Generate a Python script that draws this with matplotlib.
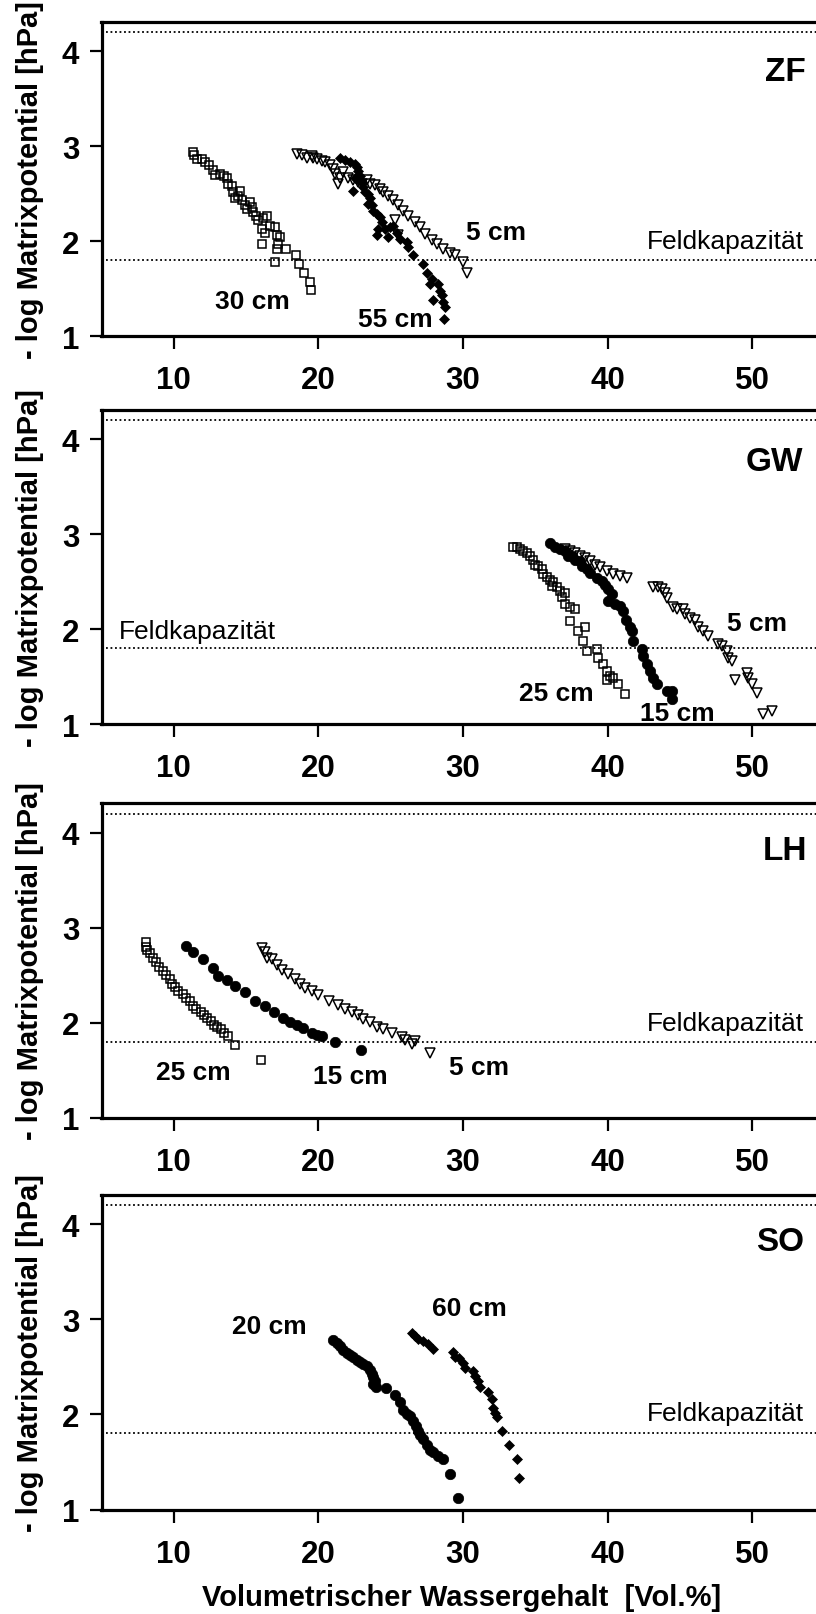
import matplotlib
matplotlib.use("Agg")
import matplotlib.pyplot as plt

plt.rcParams['font.family'] = ['Liberation Sans', 'DejaVu Sans']

# ---- ZF ----
zf_5_x = [18.49, 18.84, 19.19, 19.53, 19.65, 19.88, 20.22, 20.46, 20.80, 21.03, 21.15, 21.49, 21.38,
          21.72, 22.07, 22.42, 22.76, 22.99, 23.34, 23.57, 23.91, 24.26, 24.49, 24.84, 25.18, 25.30,
          25.53, 25.50, 25.87, 26.22, 26.68, 27.03, 27.37, 27.83, 28.18, 28.64, 29.10, 29.45, 30.02, 30.25]
zf_5_y = [2.92, 2.91, 2.88, 2.90, 2.88, 2.87, 2.84, 2.83, 2.80, 2.76, 2.71, 2.66, 2.60,
          2.73, 2.67, 2.64, 2.62, 2.60, 2.64, 2.60, 2.59, 2.55, 2.52, 2.48, 2.43, 2.22,
          2.38, 2.07, 2.32, 2.27, 2.20, 2.15, 2.08, 2.01, 1.97, 1.92, 1.88, 1.85, 1.78, 1.66]
zf_30_x = [11.30, 11.40, 11.60, 11.93, 12.16, 12.46, 12.73, 12.85, 13.19, 13.47, 13.65, 13.77, 14.00,
           14.12, 14.23, 14.46, 14.58, 14.69, 14.92, 15.04, 15.27, 15.38, 15.50, 15.68, 15.84, 16.19,
           16.42, 16.07, 16.31, 16.07, 16.65, 17.00, 17.11, 17.23, 17.34, 17.11, 17.00, 17.76, 18.45,
           18.68, 19.00, 19.42, 19.46]
zf_30_y = [2.94, 2.91, 2.87, 2.86, 2.83, 2.80, 2.75, 2.70, 2.71, 2.69, 2.66, 2.60, 2.58,
           2.52, 2.45, 2.48, 2.53, 2.43, 2.38, 2.34, 2.41, 2.36, 2.31, 2.26, 2.22, 2.24,
           2.27, 2.13, 2.09, 1.97, 2.16, 2.15, 2.06, 1.97, 2.04, 1.92, 1.78, 1.92, 1.85,
           1.76, 1.67, 1.57, 1.49]
zf_55_x = [21.49, 21.84, 22.18, 22.53, 22.65, 22.76, 22.88, 22.53, 22.76, 22.99, 22.42, 23.11, 23.22,
           23.45, 23.57, 23.45, 23.68, 23.80, 24.03, 24.26, 24.38, 24.14, 24.03, 24.61, 24.95, 24.84,
           25.18, 25.41, 25.64, 26.10, 26.22, 26.56, 27.26, 27.49, 27.83, 27.72, 28.29, 28.41, 28.52,
           27.95, 28.64, 28.76, 28.68]
zf_55_y = [2.88, 2.85, 2.83, 2.81, 2.78, 2.74, 2.69, 2.67, 2.64, 2.62, 2.53, 2.57, 2.52,
           2.50, 2.45, 2.39, 2.38, 2.32, 2.29, 2.25, 2.20, 2.13, 2.06, 2.13, 2.15, 2.04,
           2.16, 2.09, 2.02, 1.99, 1.94, 1.85, 1.76, 1.66, 1.60, 1.55, 1.55, 1.48, 1.43,
           1.38, 1.36, 1.31, 1.18]

# ---- GW ----
gw_5_x = [37.05, 37.40, 37.75, 38.09, 38.44, 38.78, 39.13, 39.47, 39.94, 40.40, 40.86, 41.32,
          43.16, 43.51, 43.74, 43.97, 44.08, 44.55, 44.78, 45.24, 45.35, 45.70, 46.04, 46.27,
          46.62, 46.97, 47.66, 47.89, 48.23, 48.35, 48.58, 48.81, 49.62, 49.73, 49.96, 50.31,
          50.77, 51.35]
gw_5_y = [2.84, 2.82, 2.80, 2.77, 2.75, 2.72, 2.68, 2.65, 2.61, 2.58, 2.56, 2.54,
          2.44, 2.44, 2.42, 2.38, 2.33, 2.23, 2.21, 2.21, 2.16, 2.12, 2.10, 2.02,
          1.98, 1.93, 1.84, 1.82, 1.77, 1.70, 1.67, 1.47, 1.54, 1.49, 1.42, 1.33,
          1.11, 1.14]
gw_15_x = [36.02, 36.36, 36.71, 37.05, 37.28, 37.52, 37.75, 38.09, 38.21, 38.55, 38.78, 39.24,
           39.59, 39.82, 40.05, 40.28, 40.05, 40.51, 40.86, 41.09, 41.27, 41.55, 41.67, 41.78,
           42.36, 42.47, 42.70, 42.93, 43.16, 43.39, 44.08, 44.43, 44.43]
gw_15_y = [2.91, 2.87, 2.84, 2.82, 2.77, 2.77, 2.73, 2.72, 2.66, 2.63, 2.59, 2.54,
           2.51, 2.47, 2.42, 2.37, 2.30, 2.26, 2.24, 2.19, 2.10, 2.02, 1.98, 1.88,
           1.79, 1.72, 1.63, 1.56, 1.49, 1.42, 1.35, 1.35, 1.26]
gw_25_x = [33.43, 33.71, 33.94, 34.17, 34.40, 34.63, 34.86, 34.98, 35.21, 35.44, 35.56, 35.79,
           36.02, 36.25, 36.13, 36.48, 36.71, 37.05, 36.82, 37.05, 37.40, 37.75, 37.40, 37.98,
           38.44, 38.32, 38.55, 39.24, 39.36, 39.70, 39.94, 40.17, 40.40, 39.94, 40.74, 41.20]
gw_25_y = [2.87, 2.86, 2.84, 2.82, 2.80, 2.77, 2.73, 2.68, 2.66, 2.63, 2.58, 2.55,
           2.52, 2.50, 2.45, 2.44, 2.40, 2.38, 2.34, 2.26, 2.23, 2.21, 2.09, 1.98,
           2.02, 1.88, 1.77, 1.79, 1.70, 1.63, 1.56, 1.51, 1.49, 1.46, 1.42, 1.32]

# ---- LH ----
lh_5_x = [16.08, 16.31, 16.42, 16.77, 17.11, 17.46, 17.92, 18.38, 18.73, 19.07, 19.53, 19.99,
          20.76, 21.38, 21.84, 22.30, 22.76, 23.11, 23.57, 24.03, 24.49, 25.07, 25.76, 25.99,
          26.45, 26.68, 27.72]
lh_5_y = [2.79, 2.74, 2.68, 2.67, 2.61, 2.56, 2.51, 2.46, 2.41, 2.37, 2.33, 2.29,
          2.23, 2.19, 2.15, 2.11, 2.08, 2.04, 2.01, 1.96, 1.93, 1.89, 1.85, 1.82,
          1.78, 1.81, 1.68]
lh_15_x = [10.84, 11.30, 12.00, 12.73, 13.08, 13.66, 14.23, 14.92, 15.62, 16.31, 16.93, 17.53,
           18.04, 18.50, 18.96, 19.53, 19.88, 20.23, 21.15, 22.92]
lh_15_y = [2.81, 2.75, 2.67, 2.58, 2.49, 2.45, 2.39, 2.32, 2.23, 2.18, 2.11, 2.05,
           2.01, 1.98, 1.94, 1.89, 1.87, 1.86, 1.80, 1.71]
lh_25_x = [8.08, 8.08, 8.12, 8.35, 8.58, 8.77, 9.00, 9.28, 9.46, 9.74, 9.85, 10.08, 10.31,
           10.61, 10.84, 11.12, 11.35, 11.53, 11.86, 12.09, 12.32, 12.57, 12.80, 13.01, 13.24,
           13.47, 13.77, 14.23, 16.01]
lh_25_y = [2.85, 2.80, 2.77, 2.73, 2.68, 2.64, 2.59, 2.54, 2.50, 2.46, 2.41, 2.38, 2.33,
           2.30, 2.26, 2.23, 2.18, 2.15, 2.11, 2.08, 2.05, 2.02, 1.98, 1.96, 1.93,
           1.89, 1.86, 1.77, 1.61]

# ---- SO ----
so_20_x = [20.99, 21.26, 21.49, 21.72, 21.95, 22.18, 22.42, 22.65, 22.88, 23.11, 23.34, 23.57,
           23.68, 23.80, 23.91, 23.80, 23.98, 24.67, 25.30, 25.64, 25.87, 26.10, 26.33, 26.56,
           26.75, 26.91, 27.03, 27.26, 27.49, 27.72, 27.95, 28.29, 28.59, 29.10, 29.68]
so_20_y = [2.78, 2.75, 2.72, 2.68, 2.65, 2.63, 2.60, 2.57, 2.55, 2.53, 2.51, 2.47,
           2.43, 2.39, 2.35, 2.32, 2.29, 2.28, 2.20, 2.13, 2.05, 2.01, 1.98, 1.93,
           1.88, 1.83, 1.78, 1.74, 1.68, 1.63, 1.60, 1.56, 1.53, 1.37, 1.12]
so_60_x = [26.45, 26.68, 26.91, 27.26, 27.60, 27.95, 29.28, 29.45, 29.75, 29.98, 30.14, 30.71,
           30.83, 31.06, 31.18, 31.75, 31.98, 32.05, 32.21, 32.37, 32.67, 33.20, 33.71, 33.90]
so_60_y = [2.86, 2.83, 2.79, 2.77, 2.74, 2.69, 2.66, 2.61, 2.59, 2.54, 2.49, 2.46,
           2.40, 2.35, 2.29, 2.24, 2.16, 2.07, 2.02, 1.97, 1.83, 1.68, 1.53, 1.33]

field_capacity = 1.8
upper_line = 4.2

open_sq = dict(marker='s', ms=6.2, mfc='none', mec='black', mew=1.1, ls='none')
open_tri = dict(marker='v', ms=7.5, mfc='none', mec='black', mew=1.1, ls='none')
dot = dict(marker='o', ms=7.5, mfc='black', mec='black', mew=0.5, ls='none')
diamond = dict(marker='D', ms=5.5, mfc='black', mec='black', mew=0.5, ls='none')

fig = plt.figure(figsize=(8.16, 16.15), dpi=100)
W, H = 816.0, 1615.0
tops = [22.7, 410.7, 804.3, 1196.0]
ax_h = 314.5
axes = []
for t in tops:
    ax = fig.add_axes([101.5 / W, 1 - (t + ax_h) / H, 723.0 / W, ax_h / H])
    axes.append(ax)

for ax in axes:
    ax.set_xlim(5, 55)
    ax.set_ylim(1, 4.31)
    ax.set_xticks([10, 20, 30, 40, 50])
    ax.set_yticks([1, 2, 3, 4])
    ax.tick_params(direction='out', length=9, width=1.6, labelsize=22.5)
    ax.tick_params(axis='x', pad=12)
    ax.tick_params(axis='y', pad=7)
    for lab in ax.get_xticklabels() + ax.get_yticklabels():
        lab.set_fontweight('bold')
    for s in ax.spines.values():
        s.set_linewidth(2.3)
    ax.axhline(upper_line, xmin=0.006, color='black', lw=1.3, ls=(0, (1, 1.5)))
    ax.axhline(field_capacity, xmin=0.006, color='black', lw=1.3, ls=(0, (1, 1.5)))
    ax.set_ylabel('- log Matrixpotential [hPa]', fontweight='bold', fontsize=21)
    ax.yaxis.set_label_coords(-0.08, 0.5)

lbl = dict(fontsize=19, fontweight='bold', ha='center', va='center')
ttl = dict(fontsize=24, fontweight='bold', ha='right', va='center')
fk = dict(fontsize=19, va='center')

# ZF
ax = axes[0]
ax.plot(zf_30_x, zf_30_y, **open_sq)
ax.plot(zf_5_x, zf_5_y, **open_tri)
ax.plot(zf_55_x, zf_55_y, **diamond)
ax.text(32.3, 2.10, '5 cm', **lbl)
ax.text(15.45, 1.375, '30 cm', **lbl)
ax.text(25.35, 1.18, '55 cm', **lbl)
ax.text(53.7, 3.79, 'ZF', **ttl)
ax.text(53.6, 2.0, 'Feldkapazität', ha='right', **fk)

# GW
ax = axes[1]
ax.plot(gw_25_x, gw_25_y, **open_sq)
ax.plot(gw_5_x, gw_5_y, **open_tri)
ax.plot(gw_15_x, gw_15_y, **dot)
ax.text(50.3, 2.07, '5 cm', **lbl)
ax.text(36.43, 1.33, '25 cm', **lbl)
ax.text(44.8, 1.12, '15 cm', **lbl)
ax.text(53.5, 3.77, 'GW', **ttl)
ax.text(6.2, 1.98, 'Feldkapazität', ha='left', **fk)

# LH
ax = axes[2]
ax.plot(lh_25_x, lh_25_y, **open_sq)
ax.plot(lh_5_x, lh_5_y, **open_tri)
ax.plot(lh_15_x, lh_15_y, **dot)
ax.text(11.33, 1.48, '25 cm', **lbl)
ax.text(22.2, 1.44, '15 cm', **lbl)
ax.text(31.1, 1.53, '5 cm', **lbl)
ax.text(53.8, 3.81, 'LH', **ttl)
ax.text(53.6, 2.0, 'Feldkapazität', ha='right', **fk)

# SO
ax = axes[3]
ax.plot(so_20_x, so_20_y, **dot)
ax.plot(so_60_x, so_60_y, **diamond)
ax.text(16.62, 2.93, '20 cm', **lbl)
ax.text(30.41, 3.12, '60 cm', **lbl)
ax.text(53.6, 3.82, 'SO', **ttl)
ax.text(53.6, 2.02, 'Feldkapazität', ha='right', **fk)
ax.set_xlabel('Volumetrischer Wassergehalt  [Vol.%]', fontsize=21, fontweight='bold')
ax.xaxis.set_label_coords((462 - 101.5) / 723.0, -0.235)

fig.savefig('out.png', dpi=100)
